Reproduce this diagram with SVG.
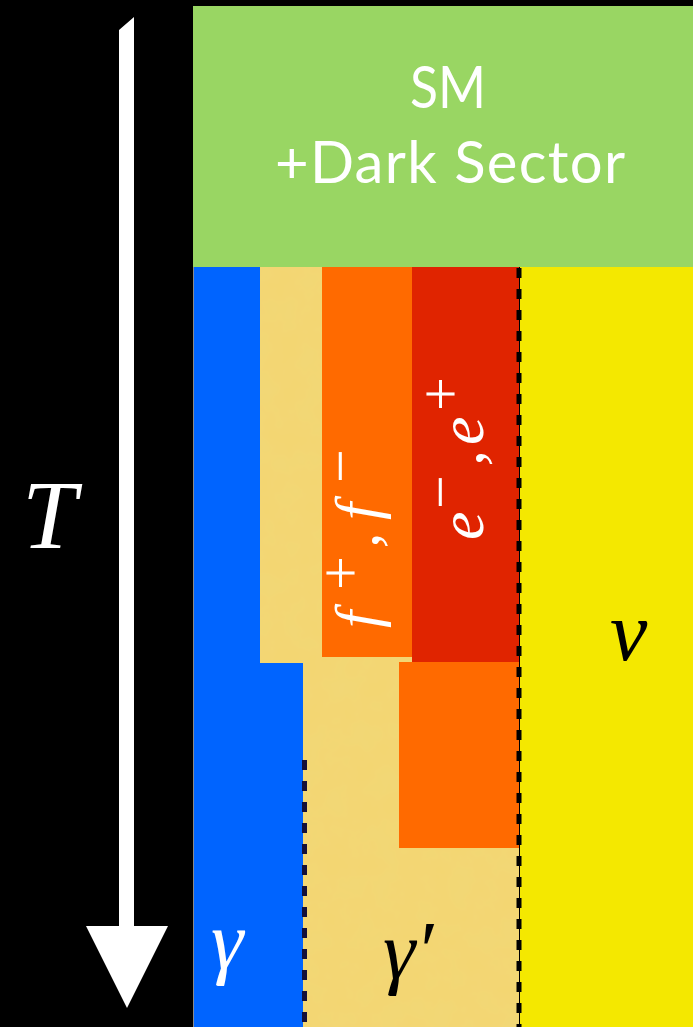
<svg xmlns="http://www.w3.org/2000/svg" width="693" height="1027" viewBox="0 0 693 1027">
<style>
.math{font-family:"Liberation Serif","DejaVu Serif",serif;font-style:italic;}
.up{font-family:"Liberation Serif","DejaVu Serif",serif;font-style:normal;}
.title{font-family:Lato,"Open Sans","Liberation Sans",sans-serif;fill:#ffffff;text-anchor:middle;}
.dash{stroke-width:5;stroke-dasharray:10 11;fill:none;}
</style>
<defs>
<filter id="mottle" x="0" y="0" width="1" height="1">
<feTurbulence type="fractalNoise" baseFrequency="0.04" numOctaves="3" seed="4" result="n"/>
<feColorMatrix in="n" type="matrix" values="0 0 0 0 0.85  0 0 0 0 0.72  0 0 0 0 0.25  0 0 0 0.25 -0.06"/>
</filter>
</defs>
<rect x="0" y="0" width="693" height="1027" fill="#000000"/>
<g id="sm-dark-sector">
<rect x="193" y="6" width="500" height="261" fill="#99d663"/>
<text class="title" x="448" y="108" font-size="58" textLength="76" lengthAdjust="spacingAndGlyphs">SM</text>
<text class="title" x="450" y="183" font-size="58" textLength="350" lengthAdjust="spacing">+Dark Sector</text>
</g>
<g id="gamma-prime-region">
<rect x="259" y="267" width="260" height="760" fill="#f3d672"/>
<rect x="259" y="267" width="260" height="760" filter="url(#mottle)"/>
<text class="math" x="383" y="978" font-size="82" fill="#000000">γ′</text>
</g>
<g id="photon">
<polygon points="193,267 260,267 260,663 303,663 303,1027 193,1027" fill="#0064ff"/>
<line x1="193.5" y1="267" x2="193.5" y2="1027" stroke="#8a8a8a" stroke-width="1"/>
<text class="math" x="211" y="968" font-size="82" fill="#ffffff">γ</text>
</g>
<g id="f-pair">
<rect x="322" y="267" width="90" height="390" fill="#ff6a00"/>
<rect x="399" y="662" width="120" height="186" fill="#ff6a00"/>
<text transform="translate(378,628) rotate(-90)" fill="#ffffff"><tspan class="math" x="0" y="0" font-size="62">f</tspan><tspan class="up" x="38" y="-18" font-size="60">+</tspan><tspan class="math" x="80" y="0" font-size="62">,</tspan><tspan class="math" x="108" y="0" font-size="62">f</tspan><tspan class="up" x="145" y="-18" font-size="60">−</tspan></text>
</g>
<g id="electron">
<rect x="412" y="267" width="107" height="395" fill="#e02400"/>
<text transform="translate(483,540) rotate(-90)" fill="#ffffff"><tspan class="math" x="0" y="0" font-size="64">e</tspan><tspan class="up" x="31" y="-23" font-size="60">−</tspan><tspan class="math" x="74" y="0" font-size="64">,</tspan><tspan class="math" x="95" y="0" font-size="64">e</tspan><tspan class="up" x="129" y="-23" font-size="60">+</tspan></text>
</g>
<g id="neutrino">
<rect x="520" y="267" width="173" height="760" fill="#f4e800"/>
<text class="math" x="610" y="660" font-size="84" fill="#000000">ν</text>
</g>
<g id="connectors">
<line class="dash" x1="519" y1="268" x2="519" y2="1027" stroke="#000000"/>
<line class="dash" x1="304.5" y1="760" x2="304.5" y2="1027" stroke="#14103a"/>
</g>
<g id="temperature-axis">
<polygon points="119,30 134,17 134,926 168,926 127,1008 86,926 119,926" fill="#ffffff"/>
<text class="math" x="22" y="548" font-size="98" fill="#ffffff">T</text>
</g>
</svg>
